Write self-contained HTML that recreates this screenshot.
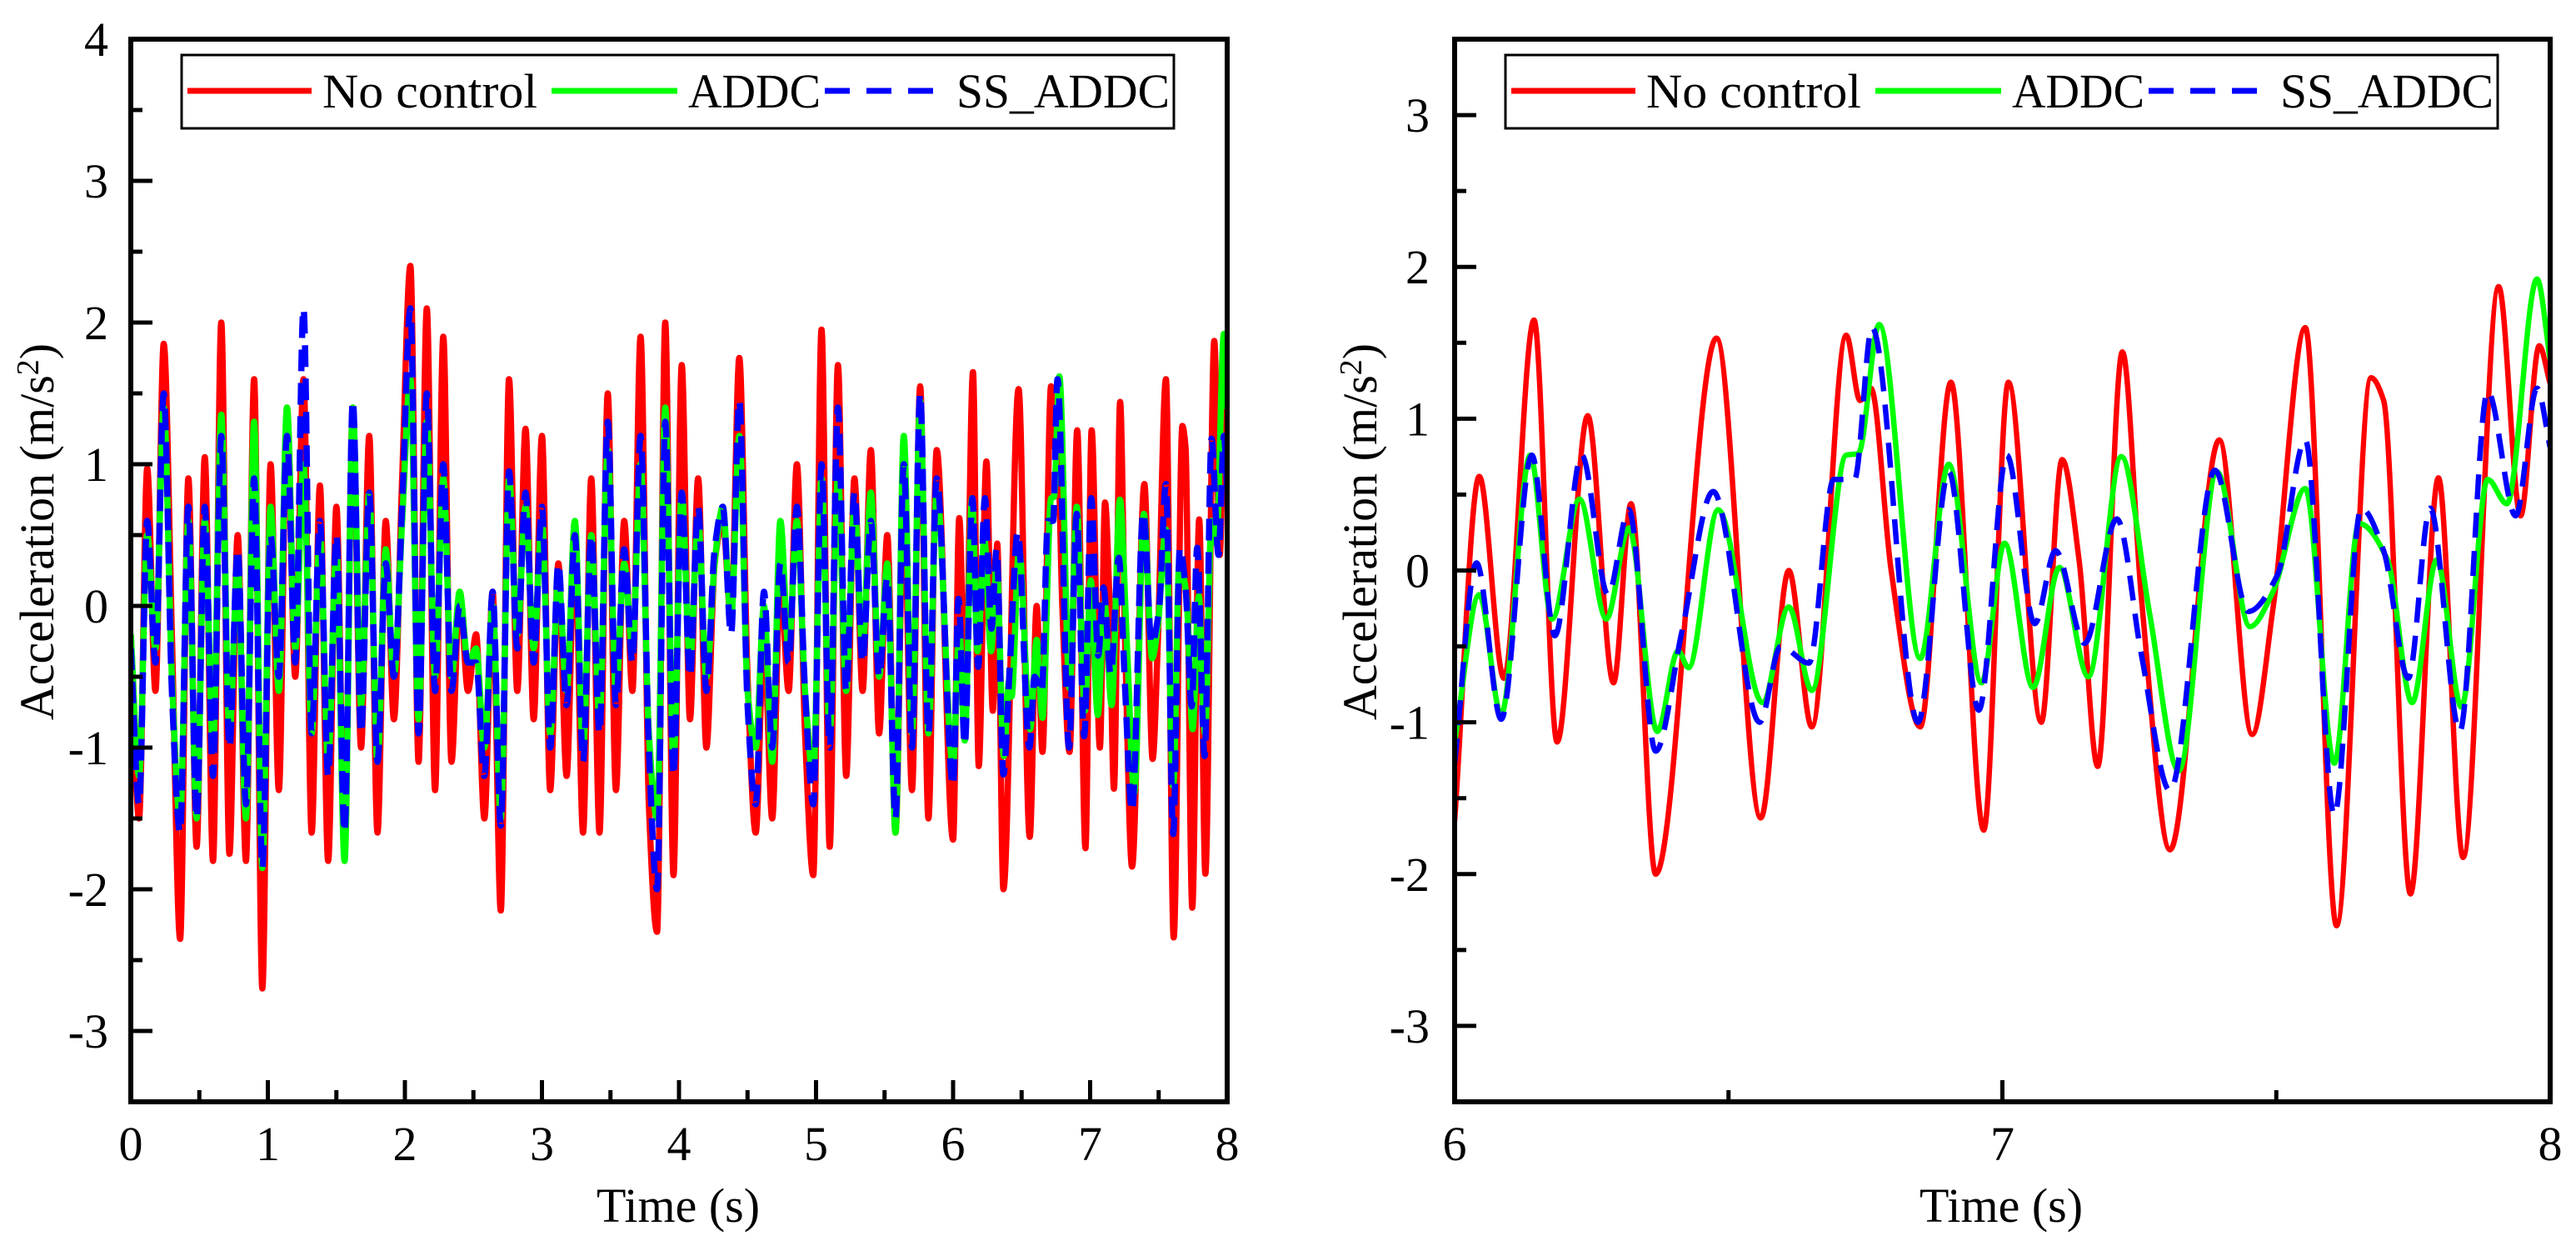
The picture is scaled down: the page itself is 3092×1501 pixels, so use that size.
<!DOCTYPE html>
<html><head><meta charset="utf-8"><style>
html,body{margin:0;padding:0;background:#fff;}
svg{display:block;}
text{font-family:"Liberation Serif",serif;fill:#000;}
</style></head><body>
<svg id="fig" width="3092" height="1501" viewBox="0 0 3092 1501" xmlns="http://www.w3.org/2000/svg">
<defs>
<clipPath id="clipL"><rect x="157" y="47" width="1316" height="1275"/></clipPath>
<clipPath id="clipR"><rect x="1746" y="47" width="1315" height="1275"/></clipPath>
</defs>
<g id="left"></g>
<g id="right"></g>
</svg>
<script>
// ---------- data ----------
const leftDt = 0.06; // sample spacing of left-chart extremes (0 .. 5.88 s)
const leftRedV = [-0.3,-1.5,0.97,-0.6,1.85,-0.2,-2.35,0.9,-1.7,1.05,-1.8,2.0,-1.75,0.5,-1.8,1.6,-2.7,1.0,-1.3,1.4,-0.5,1.6,-1.6,0.85,-1.8,0.7,-1.7,1.4,-1.0,1.2,-1.6,0.6,-0.8,0.9,2.4,-1.1,2.1,-1.3,1.9,-1.1,0.1,-0.6,-0.2,-1.5,0.1,-2.15,1.6,-0.6,1.25,-0.8,1.2,-1.3,0.3,-1.2,0.5,-1.6,0.9,-1.6,1.5,-1.3,0.6,-0.6,1.9,-1.4,-2.3,2.0,-1.9,1.7,-0.8,0.9,-1.0,0.3,0.6,-0.1,1.75,-0.5,-1.6,-0.2,-1.5,0.2,-0.6,1.0,-0.9,-1.9,1.95,-1.7,1.7,-1.2,0.9,-0.6,1.1,-0.9,0.5,-1.6,0.8,-1.3,1.55,-1.5,1.1];
const leftGreenV = [-0.2,-1.2,0.5,-0.3,1.4,-0.5,-1.5,0.6,-1.5,0.6,-1.0,1.35,-0.9,0.3,-1.5,1.3,-1.85,0.7,-0.6,1.4,-0.3,1.0,-0.9,0.5,-1.1,0.4,-1.8,1.4,-0.7,0.8,-1.1,0.4,-0.5,0.6,1.6,-0.8,1.3,-0.5,0.9,-0.5,0.1,-0.4,-0.3,-1.0,0.0,-1.5,0.9,-0.2,0.7,-0.3,0.6,-0.9,0.2,-0.6,0.6,-1.0,0.5,-0.8,1.1,-0.6,0.3,-0.3,1.0,-0.9,-1.5,1.4,-1.1,0.8,-0.4,0.6,-0.5,0.3,0.7,-0.1,1.2,-0.6,-1.0,0.0,-1.1,0.6,-0.3,0.6,-0.6,-1.2,0.9,-0.9,0.9,-0.6,0.7,-0.3,0.8,-0.5,0.3,-1.6,1.2,-0.9,1.45,-0.9,0.8];
const leftBlueV = [-0.3,-1.4,0.6,-0.4,1.5,-0.6,-1.6,0.7,-1.5,0.7,-1.2,1.2,-1.0,0.4,-1.4,0.9,-1.85,0.5,-0.5,1.2,-0.4,2.1,-0.9,0.6,-1.2,0.5,-1.6,1.45,-0.9,0.8,-1.1,0.3,-0.5,0.7,2.1,-0.9,1.5,-0.6,1.0,-0.6,0.0,-0.4,-0.4,-1.2,0.1,-1.55,0.95,-0.3,0.8,-0.4,0.7,-1.0,0.3,-0.7,0.5,-1.1,0.5,-0.9,1.3,-0.7,0.4,-0.4,1.2,-1.0,-2.0,1.3,-1.2,0.8,-0.5,0.7,-0.6,0.4,0.7,-0.2,1.45,-0.7,-1.4,0.1,-1.0,0.3,-0.4,0.7,-0.6,-1.4,1.0,-1.0,1.4,-0.6,0.8,-0.4,0.6,-0.5,0.2,-1.5,1.0,-1.0,1.5,-0.9,0.9];

const redT = [6.0,6.045,6.09,6.145,6.187,6.243,6.29,6.322,6.367,6.478,6.559,6.61,6.652,6.715,6.74,6.76,6.797,6.85,6.906,6.966,7.011,7.071,7.109,7.14,7.174,7.219,7.254,7.306,7.396,7.456,7.494,7.553,7.61,7.673,7.696,7.745,7.796,7.841,7.906,7.946,7.98,8.0];
const redV = [-1.65,0.62,-0.71,1.65,-1.13,1.02,-0.74,0.44,-2.0,1.53,-1.63,0.0,-1.03,1.55,1.12,1.2,0.0,-1.03,1.24,-1.71,1.24,-1.0,0.73,0.07,-1.29,1.44,-0.19,-1.84,0.86,-1.08,-0.25,1.6,-2.34,1.27,1.12,-2.13,0.61,-1.89,1.87,0.36,1.48,1.23];
const greenT = [6.0,6.045,6.085,6.138,6.178,6.228,6.277,6.318,6.37,6.408,6.427,6.481,6.562,6.61,6.652,6.715,6.737,6.775,6.85,6.902,6.962,7.004,7.056,7.104,7.157,7.217,7.269,7.322,7.392,7.452,7.494,7.553,7.606,7.651,7.703,7.748,7.793,7.838,7.886,7.921,7.976,8.0];
const greenV = [-1.13,-0.16,-0.95,0.76,-0.32,0.47,-0.32,0.28,-1.06,-0.53,-0.64,0.40,-0.87,-0.24,-0.79,0.76,0.77,1.62,-0.58,0.70,-0.74,0.18,-0.77,0.02,-0.70,0.75,-0.29,-1.32,0.65,-0.37,-0.14,0.54,-1.27,0.31,0.07,-0.87,0.07,-0.9,0.60,0.44,1.92,1.39];
const blueT = [6.0,6.04,6.085,6.141,6.183,6.232,6.28,6.318,6.367,6.415,6.472,6.557,6.595,6.647,6.692,6.73,6.762,6.846,6.902,6.957,7.008,7.059,7.097,7.15,7.209,7.254,7.306,7.388,7.449,7.502,7.553,7.606,7.655,7.696,7.741,7.781,7.835,7.886,7.937,7.976,8.0];
const blueV = [-1.27,0.05,-0.98,0.76,-0.43,0.76,-0.16,0.40,-1.19,-0.40,0.52,-1.0,-0.5,-0.61,0.6,0.6,1.60,-1.0,0.65,-0.92,0.76,-0.35,0.13,-0.48,0.34,-0.56,-1.45,0.66,-0.27,-0.03,0.86,-1.61,0.41,0.13,-0.71,0.41,-1.06,1.18,0.36,1.20,0.81];

const leftXTicks = [0,1,2,3,4,5,6,7,8];
const leftYTicks = [-3,-2,-1,0,1,2,3,4];
const rightXTicks = [6,7,8];
const rightYTicks = [-3,-2,-1,0,1,2,3];
const seriesNames = ["No control","ADDC","SS_ADDC"];

// ---------- helpers ----------
const NS = "http://www.w3.org/2000/svg";
function mk(tag, attrs, parent){ const e=document.createElementNS(NS,tag); for(const k in attrs) e.setAttribute(k,attrs[k]); parent.appendChild(e); return e; }

function pchipPath(ts, vs, sx, sy){
  const n=ts.length, h=[], d=[], m=new Array(n);
  for(let i=0;i<n-1;i++){ h[i]=ts[i+1]-ts[i]; d[i]=(vs[i+1]-vs[i])/h[i]; }
  m[0]=d[0]; m[n-1]=d[n-2];
  for(let i=1;i<n-1;i++){
    if(d[i-1]*d[i]<=0) m[i]=0;
    else { const w1=2*h[i]+h[i-1], w2=h[i]+2*h[i-1]; m[i]=(w1+w2)/(w1/d[i-1]+w2/d[i]); }
  }
  let p="M"+sx(ts[0]).toFixed(1)+","+sy(vs[0]).toFixed(1);
  for(let i=0;i<n-1;i++){
    const t0=ts[i], t1=ts[i+1], hh=h[i];
    const c1t=t0+hh/3, c1v=vs[i]+m[i]*hh/3, c2t=t1-hh/3, c2v=vs[i+1]-m[i+1]*hh/3;
    p+="C"+sx(c1t).toFixed(1)+","+sy(c1v).toFixed(1)+" "+sx(c2t).toFixed(1)+","+sy(c2v).toFixed(1)+" "+sx(t1).toFixed(1)+","+sy(vs[i+1]).toFixed(1);
  }
  return p;
}

function drawChart(g, cfg){
  const {x0,x1,y0,y1,tMin,tMax,vMin,vMax,xTicks,yTicks,xMinor,yMinor,series,clip,lw,legendX,yLabelX,yTitleX,xTitleX} = cfg;
  const sx = t => x0 + (t-tMin)/(tMax-tMin)*(x1-x0);
  const sy = v => y1 - (v-vMin)/(vMax-vMin)*(y1-y0);
  const plot = mk('g',{'clip-path':'url(#'+clip+')'},g);
  
  
  series.forEach(s=>{
    const p = mk('path',{d:pchipPath(s.t,s.v,sx,sy),fill:'none',stroke:s.color,'stroke-width':lw,'stroke-linejoin':'round'},plot);
    if(s.dash) p.setAttribute('stroke-dasharray',s.dash);
    
    
  });
  const tk = mk('g',{stroke:'#000','stroke-width':5},g);
  
  
  xTicks.forEach(t=>mk('line',{x1:sx(t),x2:sx(t),y1:y1,y2:y1-26},tk));
  xMinor.forEach(t=>mk('line',{x1:sx(t),x2:sx(t),y1:y1,y2:y1-14},tk));
  yTicks.forEach(v=>mk('line',{x1:x0,x2:x0+26,y1:sy(v),y2:sy(v)},tk));
  yMinor.forEach(v=>mk('line',{x1:x0,x2:x0+14,y1:sy(v),y2:sy(v)},tk));
  const fr = mk('rect',{x:x0,y:y0,width:x1-x0,height:y1-y0,fill:'none',stroke:'#000','stroke-width':6},g);
  
  
  xTicks.forEach(t=>{
    const e=mk('text',{x:sx(t),y:1392,'text-anchor':'middle','font-size':58},g); e.textContent=t;
    
    
  });
  yTicks.forEach(v=>{
    const e=mk('text',{x:yLabelX,y:sy(v)+20,'text-anchor':'end','font-size':58},g); e.textContent=v;
    
    
  });
  const xt=mk('text',{x:xTitleX,y:1466,'text-anchor':'middle','font-size':58},g); xt.textContent='Time (s)';
  
  
  const yt=mk('text',{x:0,y:0,'text-anchor':'middle','font-size':58,transform:'translate('+yTitleX+',638) rotate(-90)'},g);
  yt.innerHTML='Acceleration (m/s<tspan dy="-18" font-size="38">2</tspan><tspan dy="18">)</tspan>';
  
  
  const lg = mk('g',{},g);
  
  
  const L = legendX;
  mk('rect',{x:L,y:66,width:1191,height:88,fill:'#fff',stroke:'#000','stroke-width':3},lg);
  const ly=109;
  const segs=[[L+7,L+156,'#ff0000',null],[L+444,L+595,'#00ff00',null],[L+772,L+910,'#0000ff','30 20']];
  const labs=[[L+169,258],[L+608,159],[L+930,256]];
  series.forEach((s,i)=>{
    const ln=mk('line',{x1:segs[i][0],x2:segs[i][1],y1:ly,y2:ly,stroke:segs[i][2],'stroke-width':7},lg);
    if(segs[i][3]) ln.setAttribute('stroke-dasharray',segs[i][3]);
    
    
    const tx=mk('text',{x:labs[i][0],y:ly+20,'font-size':58,textLength:labs[i][1],lengthAdjust:'spacingAndGlyphs'},lg);
    tx.textContent=seriesNames[i];
    
    
  });
}

const leftT = leftRedV.map((_,i)=>i*leftDt);
drawChart(document.getElementById('left'),{
  x0:157,x1:1473,y0:47,y1:1322,tMin:0,tMax:8,vMin:-3.5,vMax:4,
  xTicks:leftXTicks,yTicks:leftYTicks,
  xMinor:[0.5,1.5,2.5,3.5,4.5,5.5,6.5,7.5],yMinor:[-2.5,-1.5,-0.5,0.5,1.5,2.5,3.5],
  clip:'clipL',lw:7.5,legendX:218,yLabelX:130,yTitleX:64,xTitleX:814,
  series:[
    {name:'no-control-line',color:'#ff0000',t:leftT.concat(redT),v:leftRedV.concat(redV)},
    {name:'addc-line',color:'#00ff00',t:leftT.concat(greenT),v:leftGreenV.concat(greenV)},
    {name:'ss-addc-line',color:'#0000ff',dash:'26 14',t:leftT.concat(blueT),v:leftBlueV.concat(blueV)}
  ]
});
drawChart(document.getElementById('right'),{
  x0:1746,x1:3061,y0:47,y1:1322,tMin:6,tMax:8,vMin:-3.5,vMax:3.5,
  xTicks:rightXTicks,yTicks:rightYTicks,
  xMinor:[6.5,7.5],yMinor:[-2.5,-1.5,-0.5,0.5,1.5,2.5],
  clip:'clipR',lw:6.5,legendX:1807,yLabelX:1716,yTitleX:1652,xTitleX:2402,
  series:[
    {name:'no-control-line',color:'#ff0000',t:redT,v:redV},
    {name:'addc-line',color:'#00ff00',t:greenT,v:greenV},
    {name:'ss-addc-line',color:'#0000ff',dash:'30 16',t:blueT,v:blueV}
  ]
});
</script>
</body></html>
